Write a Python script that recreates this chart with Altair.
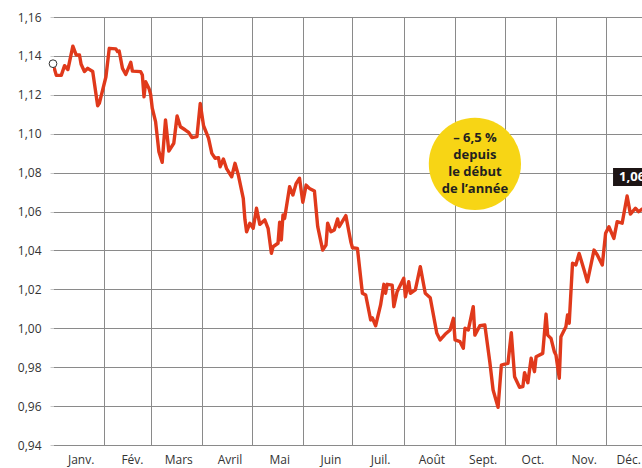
import altair as alt
import pandas as pd

# EUR/USD 2022
days = [
    "01-01", "01-03", "01-06", "01-08", "01-10", "01-13", "01-15", "01-17", "01-18", "01-20",
    "01-22", "01-25", "01-28", "01-29", "02-02", "02-04", "02-08", "02-09", "02-10", "02-12",
    "02-14", "02-17", "02-18", "02-23", "02-24", "02-25", "02-26", "02-28", "03-01", "03-02",
    "03-04", "03-06", "03-08", "03-10", "03-12", "03-15", "03-17", "03-19", "03-22", "03-24",
    "03-26", "03-29", "03-31", "04-02", "04-05", "04-07", "04-09", "04-11", "04-12", "04-14",
    "04-16", "04-19", "04-21", "04-23", "04-26", "04-27", "04-28", "04-30", "05-02", "05-04",
    "05-06", "05-09", "05-11", "05-13", "05-14", "05-17", "05-18", "05-19", "05-20", "05-21",
    "05-24", "05-26", "05-28", "05-30", "06-01", "06-03", "06-05", "06-08", "06-10", "06-13",
    "06-15", "06-16", "06-18", "06-20", "06-22", "06-23", "06-27", "06-30", "07-01", "07-04",
    "07-07", "07-09", "07-12", "07-13", "07-15", "07-18", "07-20", "07-21", "07-22", "07-25",
    "07-26", "07-28", "08-01", "08-02", "08-04", "08-05", "08-08", "08-11", "08-14", "08-17",
    "08-21", "08-23", "08-26", "08-29", "08-31", "09-01", "09-04", "09-06", "09-07", "09-09",
    "09-12", "09-13", "09-16", "09-19", "09-22", "09-24", "09-27", "09-29", "10-01", "10-03",
    "10-05", "10-07", "10-10", "10-12", "10-13", "10-15", "10-17", "10-19", "10-20", "10-24",
    "10-26", "10-27", "10-29", "10-31", "11-01", "11-03", "11-04", "11-07", "11-08", "11-09",
    "11-11", "11-13", "11-15", "11-18", "11-20", "11-24", "11-26", "11-29", "12-01", "12-03",
    "12-06", "12-08", "12-11", "12-14", "12-16", "12-19", "12-21", "12-23", "12-27",
]
rates = [
    1.136, 1.130, 1.130, 1.135, 1.133, 1.145, 1.1405, 1.1405, 1.1357, 1.132,
    1.1336, 1.132, 1.1144, 1.1156, 1.1293, 1.1439, 1.1436, 1.1422, 1.1425, 1.1336,
    1.1305, 1.1367, 1.1322, 1.1319, 1.1302, 1.119, 1.1267, 1.1233, 1.1203, 1.1131,
    1.1062, 1.0908, 1.0853, 1.1071, 1.0911, 1.0951, 1.1091, 1.1036, 1.1019, 1.1007,
    1.098, 1.0985, 1.1156, 1.1041, 1.0977, 1.0899, 1.0874, 1.0877, 1.083, 1.087,
    1.0819, 1.0779, 1.0848, 1.0788, 1.0668, 1.056, 1.0496, 1.054, 1.0514, 1.0617,
    1.0534, 1.0557, 1.0514, 1.0385, 1.0419, 1.0437, 1.0545, 1.0454, 1.0582, 1.0565,
    1.0728, 1.0685, 1.0745, 1.0771, 1.0648, 1.0736, 1.0719, 1.0706, 1.0522, 1.0402,
    1.0428, 1.054, 1.0496, 1.0505, 1.0562, 1.0522, 1.0579, 1.0445, 1.0414, 1.0411,
    1.018, 1.0171, 1.0043, 1.0054, 1.0013, 1.012, 1.0226, 1.018, 1.0226, 1.0222,
    1.0111, 1.0188, 1.0257, 1.0162, 1.0239, 1.018, 1.0197, 1.0317, 1.018, 1.0157,
    0.9974, 0.994, 0.9969, 0.9991, 1.0051, 0.994, 0.9931, 0.9897, 1.0, 0.9991,
    1.0111, 0.9965, 1.0013, 1.0017, 0.9828, 0.9683, 0.9594, 0.9811, 0.9816, 0.982,
    0.9977, 0.9751, 0.9697, 0.970, 0.9772, 0.972, 0.9846, 0.9777, 0.9854, 0.9871,
    1.0073, 0.9965, 0.9948, 0.988, 0.9863, 0.9743, 0.9957, 1.0008, 1.0068, 1.0026,
    1.0334, 1.0325, 1.0385, 1.030, 1.0239, 1.0402, 1.0377, 1.0325, 1.0488, 1.0522,
    1.0462, 1.0548, 1.054, 1.068, 1.0587, 1.0617, 1.0599, 1.0612, 1.063,
]

month_labels = ["Janv.", "Fév.", "Mars", "Avril", "Mai", "Juin",
                "Juil.", "Août", "Sept.", "Oct.", "Nov.", "Déc."]
month_label_days = ["01-18", "02-18", "03-18", "04-18", "05-18", "06-18",
                    "07-18", "08-18", "09-18", "10-18", "11-18", "12-15"]
y_ticks = [0.94, 0.96, 0.98, 1.00, 1.02, 1.04, 1.06, 1.08, 1.10, 1.12, 1.14, 1.16]

annotation_text = "\u2013 6,5 %\ndepuis\nle début\nde l\u2019année"
last_label = "1,06"

df = pd.DataFrame({"date": pd.to_datetime(["2022-" + d for d in days]), "value": rates})
months_df = pd.DataFrame({"date": pd.to_datetime(["2022-" + d for d in month_label_days]),
                          "label": month_labels})
start_df = df.iloc[[0]]
bubble_df = pd.DataFrame({"date": pd.to_datetime(["2022-09-13"]), "value": [1.0845],
                          "tvalue": [1.0978]})
tag_df = pd.DataFrame({"date": pd.to_datetime(["2022-12-05 12:00"]),
                       "date2": pd.to_datetime(["2022-12-31"]),
                       "value": [1.0824], "value2": [1.0731],
                       "tdate": pd.to_datetime(["2022-12-17"]), "tvalue": [1.0778],
                       "label": [last_label]})

GRID = "#8a8a8a"
FONT = "Open Sans"

x_scale = alt.Scale(domain=[alt.DateTime(year=2022, month=1, date=1),
                            alt.DateTime(year=2022, month=12, date=23)])
x_axis = alt.Axis(values=[alt.DateTime(year=2022, month=m, date=1) for m in range(2, 13)],
                  grid=True, gridColor=GRID, gridWidth=1, labels=False, ticks=False,
                  domain=False, title=None)
y_scale = alt.Scale(domain=[0.94, 1.16], nice=False, zero=False)
y_axis = alt.Axis(values=y_ticks, grid=True, gridColor=GRID, gridWidth=1, domain=False,
                  ticks=True, tickSize=3, tickColor="#c8c8c8",
                  labelExpr="replace(format(datum.value, '.2f'), '.', ',')",
                  labelFont=FONT, labelFontSize=12, labelColor="#333333", labelPadding=9,
                  title=None)


def X(field="date"):
    return alt.X(f"{field}:T", scale=x_scale, axis=x_axis)


def Y(field="value"):
    return alt.Y(f"{field}:Q", scale=y_scale, axis=y_axis)


line = alt.Chart(df).mark_line(color="#e0391b", strokeWidth=3.4, clip=True,
                               strokeJoin="round").encode(x=X(), y=Y())

start = alt.Chart(start_df).mark_circle(size=60, fill="white", stroke="#333333",
                                        strokeWidth=1, opacity=1).encode(x=X(), y=Y())

bubble = alt.Chart(bubble_df).mark_circle(size=8500, color="#f7d515", opacity=1).encode(x=X(), y=Y())
bubble_text = alt.Chart(bubble_df).mark_text(
    text=annotation_text, lineBreak="\n", lineHeight=17, font=FONT, fontSize=13,
    fontWeight="bold", color="#231f20", align="center", baseline="middle"
).encode(x=X(), y=Y("tvalue"))

tag = alt.Chart(tag_df).mark_rect(color="#1c1414", clip=True).encode(
    x=X(), x2="date2:T", y=Y(), y2="value2:Q")
tag_text = alt.Chart(tag_df).mark_text(
    font=FONT, fontSize=13, fontWeight="bold", color="white", align="center",
    baseline="middle", clip=True
).encode(x=X("tdate"), y=Y("tvalue"), text="label:N")

month_text = alt.Chart(months_df).mark_text(
    font=FONT, fontSize=12, color="#333333", align="center", baseline="middle"
).encode(x=X(), y=alt.value(443), text="label:N")

chart = alt.layer(line, bubble, bubble_text, start, tag, tag_text, month_text).properties(
    width=589, height=428,
    autosize=alt.AutoSizeParams(type="none"),
    padding={"left": 53, "top": 17, "right": 0, "bottom": 23},
    background="white",
).configure_view(strokeWidth=0)

chart.save("out.html", embed_options={"renderer": "svg", "actions": False})
